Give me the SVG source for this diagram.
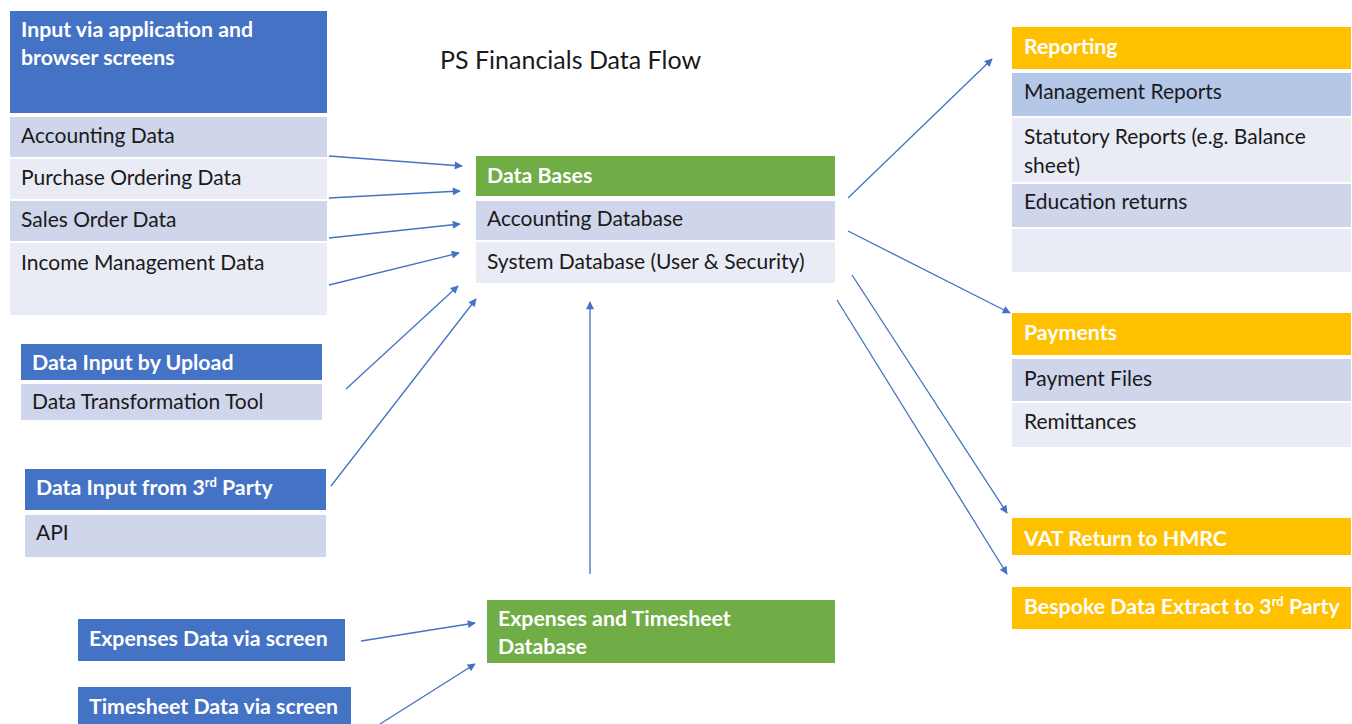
<svg xmlns="http://www.w3.org/2000/svg" width="1352" height="724" viewBox="0 0 1352 724">
<style>
text{font-family:Lato,"Open Sans","Liberation Sans",sans-serif;font-size:21px;fill:#1a1a1a}
.h{font-weight:bold;fill:#fff;font-size:21.3px}
.blue{fill:#4472C4}.green{fill:#70AD47}.gold{fill:#FFC000}
.r1{fill:#CFD5EA}.r2{fill:#E9EBF5}.r3{fill:#B4C7E7}
.c{stroke:#4472C4;stroke-width:1.3;fill:none;marker-end:url(#ah)}
.sup{font-size:13px}
</style>
<defs>
<marker id="ah" viewBox="0 0 10 10" refX="9" refY="5" markerWidth="9" markerHeight="8" markerUnits="userSpaceOnUse" orient="auto">
<path d="M0,0 L10,5 L0,10 z" fill="#4472C4"/>
</marker>
</defs>
<rect width="1352" height="724" fill="#fff"/>
<text x="440" y="69" style="font-size:25px">PS Financials Data Flow</text>

<g id="input-screens">
<rect class="blue" x="10" y="11" width="317" height="102"/>
<text class="h" x="21" y="37">Input via application and</text>
<text class="h" x="21" y="65">browser screens</text>
<rect class="r1" x="10" y="117" width="317" height="40"/>
<text x="21" y="143">Accounting Data</text>
<rect class="r2" x="10" y="159" width="317" height="40"/>
<text x="21" y="185">Purchase Ordering Data</text>
<rect class="r1" x="10" y="201" width="317" height="40"/>
<text x="21" y="227">Sales Order Data</text>
<rect class="r2" x="10" y="243" width="317" height="72"/>
<text x="21" y="270">Income Management Data</text>
</g>

<g id="upload">
<rect class="blue" x="21" y="344" width="301" height="36"/>
<text class="h" x="32" y="370">Data Input by Upload</text>
<rect class="r1" x="21" y="384" width="301" height="36"/>
<text x="32" y="409">Data Transformation Tool</text>
</g>

<g id="third-party">
<rect class="blue" x="25" y="469" width="301" height="41"/>
<text class="h" x="36" y="495">Data Input from 3<tspan class="sup" dy="-8">rd</tspan><tspan dy="8"> Party</tspan></text>
<rect class="r1" x="25" y="515" width="301" height="42"/>
<text x="36" y="540">API</text>
</g>

<g id="expenses">
<rect class="blue" x="78" y="619" width="267" height="42"/>
<text class="h" x="89" y="646">Expenses Data via screen</text>
</g>

<g id="timesheet">
<rect class="blue" x="78" y="687" width="273" height="40"/>
<text class="h" x="89" y="714">Timesheet Data via screen</text>
</g>

<g id="databases">
<rect class="green" x="476" y="156" width="359" height="40"/>
<text class="h" x="487" y="183">Data Bases</text>
<rect class="r1" x="476" y="201" width="359" height="39"/>
<text x="487" y="226">Accounting Database</text>
<rect class="r2" x="476" y="242" width="359" height="41"/>
<text x="487" y="269">System Database (User &amp; Security)</text>
</g>

<g id="exp-ts-db">
<rect class="green" x="487" y="600" width="348" height="63"/>
<text class="h" x="498" y="626">Expenses and Timesheet</text>
<text class="h" x="498" y="654">Database</text>
</g>

<g id="reporting">
<rect class="gold" x="1012" y="27" width="339" height="42"/>
<text class="h" x="1024" y="54">Reporting</text>
<rect class="r3" x="1012" y="73" width="339" height="43"/>
<text x="1024" y="99">Management Reports</text>
<rect class="r2" x="1012" y="118" width="339" height="64"/>
<text x="1024" y="144">Statutory Reports (e.g. Balance</text>
<text x="1024" y="173">sheet)</text>
<rect class="r1" x="1012" y="184" width="339" height="43"/>
<text x="1024" y="209">Education returns</text>
<rect class="r2" x="1012" y="229" width="339" height="43"/>
</g>

<g id="payments">
<rect class="gold" x="1012" y="313" width="339" height="42"/>
<text class="h" x="1024" y="340">Payments</text>
<rect class="r1" x="1012" y="359" width="339" height="42"/>
<text x="1024" y="386">Payment Files</text>
<rect class="r2" x="1012" y="403" width="339" height="44"/>
<text x="1024" y="429">Remittances</text>
</g>

<g id="vat">
<rect class="gold" x="1012" y="518" width="339" height="37"/>
<text class="h" x="1024" y="546">VAT Return to HMRC</text>
</g>

<g id="bespoke">
<rect class="gold" x="1012" y="587" width="339" height="42"/>
<text class="h" x="1024" y="614">Bespoke Data Extract to 3<tspan class="sup" dy="-8">rd</tspan><tspan dy="8"> Party</tspan></text>
</g>

<g id="connectors">
<line class="c" x1="329" y1="156" x2="462" y2="166"/>
<line class="c" x1="329" y1="198" x2="460" y2="191"/>
<line class="c" x1="329" y1="238" x2="460" y2="224"/>
<line class="c" x1="329" y1="285" x2="459" y2="253"/>
<line class="c" x1="346" y1="389" x2="458" y2="286"/>
<line class="c" x1="331" y1="486" x2="476" y2="299"/>
<line class="c" x1="361" y1="641" x2="475" y2="623"/>
<line class="c" x1="380" y1="724" x2="475" y2="664"/>
<line class="c" x1="590" y1="574" x2="590" y2="302"/>
<line class="c" x1="848" y1="198" x2="992" y2="59"/>
<line class="c" x1="848" y1="231" x2="1010" y2="313"/>
<line class="c" x1="852" y1="275" x2="1007" y2="513"/>
<line class="c" x1="837" y1="300" x2="1007" y2="574"/>
</g>
</svg>
